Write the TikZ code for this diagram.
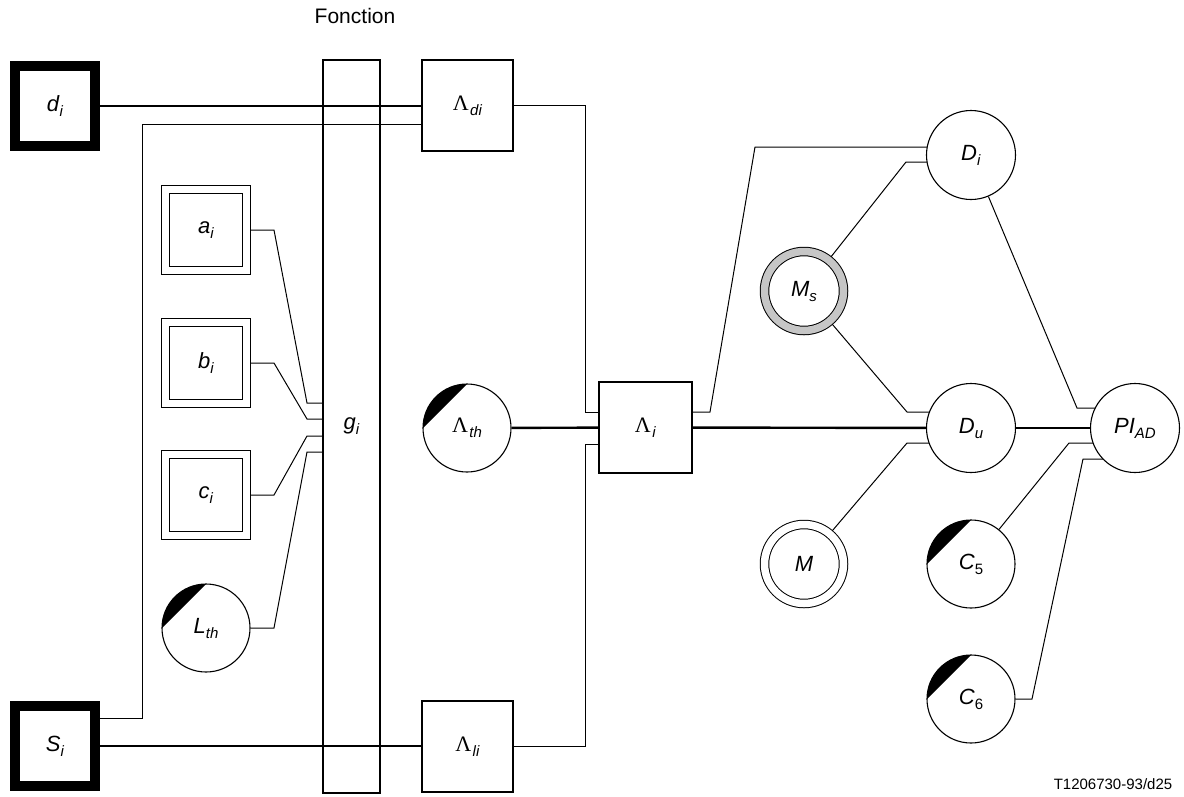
\documentclass[tikz,border=0pt]{standalone}
\usepackage{fontspec}
\setmainfont{Liberation Sans}
\newfontfamily\grk{Liberation Serif}
\usetikzlibrary{backgrounds}
\newcommand\subfnt{\fontsize{15}{16}\selectfont}
\newcommand\lab[2]{\textit{#1}\raisebox{-5pt}{\subfnt\textit{#2}}}
\newcommand\lam[1]{{\grk Λ}\kern1.5pt\raisebox{-5pt}{\subfnt\textit{#1}}}
\begin{document}
\begin{tikzpicture}[x=1pt,y=-1pt,
  every node/.style={font=\fontsize{22}{26}\selectfont, inner sep=0pt},
  thickbox/.style={draw, line width=10pt, minimum size=80pt, fill=white},
  dblbox/.style={draw, line width=1pt, double=white, double distance=7pt, minimum size=81pt, fill=white},
  sqbox/.style={draw, line width=1.1pt, minimum width=91pt, minimum height=91pt, fill=white},
  circ/.style={draw, circle, line width=1.1pt, minimum size=89pt, fill=white},
  darkcirc/.style={circ, minimum size=88pt,
    path picture={\fill[black,x=1pt,y=1pt] (path picture bounding box.center) ++(0,44) arc[start angle=90,end angle=180,radius=44] -- cycle;}},
  ringcirc/.style={draw, circle, line width=1pt, double=#1, double distance=7.5pt, minimum size=79pt, fill=white},
  conn/.style={line width=1pt},
  thickconn/.style={line width=2.4pt}
]
\useasboundingbox (0,0) rectangle (1184,796);

% nodes
\node[thickbox] (di) at (55,106) {\lab{d}{i}};
\node[thickbox] (Si) at (55,746) {\lab{S}{i}};
\node[dblbox] (ai) at (206,230) {\lab{a}{i}};
\node[dblbox] (bi) at (206,363) {\lab{b}{i}};
\node[dblbox] (ci) at (206,495) {\lab{c}{i}};
\node[darkcirc] (Lt) at (206,628) {\lab{L}{th}};
\node[draw, line width=1.1pt, minimum width=57pt, minimum height=733pt] (gi) at (351.5,426.5) {};
\node at (gi.center) {\lab{g}{i}};
\node (fonc) at (355,16) {\fontsize{21}{24}\selectfont Fonction};
\node[sqbox] (Ldi) at (467.5,105.5) {\lam{di}};
\node[sqbox] (Lli) at (467.5,746.5) {\lam{li}};
\node[darkcirc] (Lth) at (467,428) {\lam{th}};
\node[sqbox, minimum width=93pt] (Li) at (645.5,427.5) {\lam{i}};
\node[circ] (Di) at (971,155) {\lab{D}{i}};
\node[ringcirc=gray!45] (Ms) at (804,291) {\lab{M}{s}};
\node[circ] (Du) at (971,428) {\lab{D}{u}};
\node[circ] (PI) at (1135,428) {\lab{PI}{AD}};
\node[ringcirc=white] (M) at (804,564) {\textit{M}};
\node[darkcirc] (C5) at (971,564) {\textit{C}\raisebox{-5pt}{\subfnt 5}};
\node[darkcirc] (C6) at (971,699) {\textit{C}\raisebox{-5pt}{\subfnt 6}};
\node (foot) at (1113,784) {\fontsize{15}{17}\selectfont T1206730-93/d25};

% connectors
\begin{scope}[on background layer]
\draw[thickconn] (di) -- (di -| Ldi.west);
\draw[thickconn] (Si) -- (Si -| Lli.west);
\draw[thickconn] (Lth) -- (Li);
\draw[thickconn] (Li) -- (Du);
\draw[thickconn] (Du) -- (PI);

\coordinate (p1) at (142,124);
\coordinate (p2) at (142,718);
\draw[conn] (p1 -| Ldi.west) -- (p1) -- (p2) -- (p2 -| Si);

\coordinate (q1) at (585,412);
\coordinate (q2) at (585,444);
\draw[conn] (Ldi.east) -| (q1) -- (q1 -| Li.west);
\draw[conn] (Lli.east) -| (q2) -- (q2 -| Li.west);

\coordinate (r1) at (710,412);
\coordinate (r2) at (755,147);
\draw[conn] (r1 -| Li.east) -- (r1) -- (r2) -- (r2 -| Di);

\coordinate (s1) at (906,162);
\coordinate (s2) at (907,412);
\coordinate (s3) at (907,443);
\draw[conn] (Ms) -- (s1) -- (s1 -| Di);
\draw[conn] (Ms) -- (s2) -- (s2 -| Du);
\draw[conn] (M) -- (s3) -- (s3 -| Du);

\coordinate (t1) at (1077,408);
\coordinate (t2) at (1069,443);
\coordinate (t3) at (1083,459);
\coordinate (t4) at (1032,699);
\draw[conn] (Di) -- (t1) -- (t1 -| PI);
\draw[conn] (C5) -- (t2) -- (t2 -| PI);
\draw[conn] (C6) -- (t4) -- (t3) -- (t3 -| PI);

\coordinate (ua) at (274,230); \coordinate (va) at (307,403);
\coordinate (ub) at (274,363); \coordinate (vb) at (307,419);
\coordinate (uc) at (274,495); \coordinate (vc) at (307,436);
\coordinate (ul) at (274,628); \coordinate (vl) at (307,452);
\draw[conn] (ai) -- (ua) -- (va) -- (va -| gi.west);
\draw[conn] (bi) -- (ub) -- (vb) -- (vb -| gi.west);
\draw[conn] (ci) -- (uc) -- (vc) -- (vc -| gi.west);
\draw[conn] (Lt) -- (ul) -- (vl) -- (vl -| gi.west);
\end{scope}
\end{tikzpicture}
\end{document}
